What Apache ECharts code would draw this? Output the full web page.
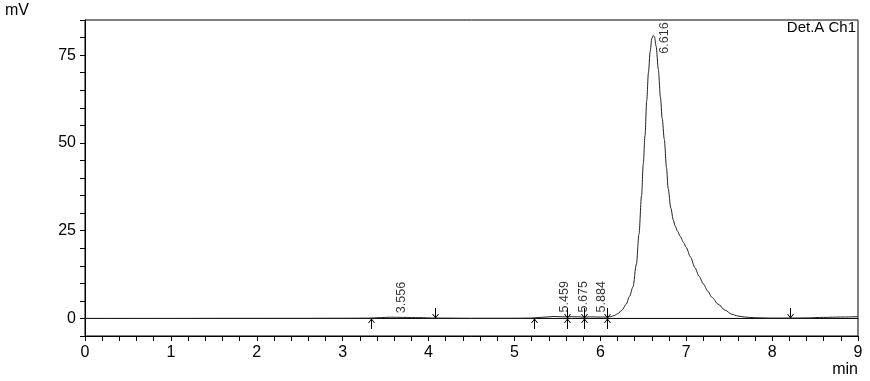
<!DOCTYPE html>
<html>
<head>
<meta charset="utf-8">
<script src="https://cdn.jsdelivr.net/npm/echarts@6/dist/echarts.min.js"></script>
<style>html,body{margin:0;padding:0;background:#fff}#c{width:870px;height:381px}</style>
</head>
<body>
<div id="c"></div>
<script>
// retention time (min)
const timeMin = [0,0.5,1.0,1.5,2.0,2.5,3.0,3.3,3.45,3.556,3.7,3.9,4.08,4.5,5.0,5.2,5.3,5.459,5.6,5.675,5.8,5.884,6.0,6.07,
  6.12,6.16,6.2,6.25,6.3,6.34,6.38,6.42,6.45,6.48,6.5,6.52,6.54,6.56,6.58,6.6,6.616,6.63,6.65,6.675,6.7,6.72,6.745,6.77,6.79,
  6.82,6.85,6.87,6.9,6.93,6.97,7.0,7.05,7.1,7.15,7.2,7.25,7.3,7.37,7.45,7.53,7.6,7.68,7.8,8.0,8.2,8.4,8.6,8.8,9.0];
// detector signal (mV)
const signalMv = [0,0,0,0.02,0.02,0.03,0.05,0.08,0.25,0.35,0.3,0.22,0.1,0.05,0.05,0.1,0.3,0.55,0.45,0.5,0.4,0.45,0.4,0.4,
  0.5,0.8,1.3,2.3,4.0,6.3,9.0,15.5,24,35,44,52,62,70,76,79.8,80.6,80.2,77.5,71,63,57,51,43,37,
  31.5,28,26.4,24.8,23.4,21.6,20.2,17.5,14.5,12,9.8,7.8,6.0,4.1,2.4,1.2,0.7,0.4,0.2,0.1,0.1,0.15,0.3,0.4,0.5];
// peak labels: retention time and height (mV) of label foot
const peakRt = [3.556, 5.459, 5.675, 5.884, 6.616];
const peakLabelFoot = [1.5, 1.7, 1.7, 1.7, 75.4];
// integration markers: time and kind
const markTime = [3.33, 4.075, 5.23, 5.614, 5.81, 6.074, 8.21];
const markKind = ['start', 'end', 'start', 'both', 'both', 'both', 'end'];
const xTicks = [0,1,2,3,4,5,6,7,8,9];
const yTickLabels = [0,25,50,75];

const FONT = 'Liberation Sans';
const chart = echarts.init(document.getElementById('c'), null, {renderer: 'canvas'});

const lineData = timeMin.map((t, i) => [t, signalMv[i]]);
const labelData = peakRt.map((t, i) => [t, peakLabelFoot[i]]);
const markData = markTime.map((t, i) => [t, 0, markKind[i]]);

chart.setOption({
  animation: false,
  backgroundColor: '#fff',
  grid: {left: 85, right: 12, top: 20, bottom: 45, show: true, borderColor: '#000', borderWidth: 1, backgroundColor: 'transparent'},
  xAxis: {
    type: 'value', min: 0, max: 9, interval: 1,
    axisLine: {show: true, onZero: false, lineStyle: {color: '#000', width: 1}},
    axisTick: {show: true, length: 5, lineStyle: {color: '#000'}},
    minorTick: {show: true, splitNumber: 5, length: 5, lineStyle: {color: '#000'}},
    splitLine: {show: false},
    axisLabel: {color: '#000', fontFamily: FONT, fontSize: 16, margin: 9,
      formatter: v => xTicks.includes(Math.round(v)) ? String(Math.round(v)) : ''}
  },
  yAxis: {
    type: 'value', min: -5, max: 85, interval: 5,
    axisLine: {show: true, onZero: false, lineStyle: {color: '#000', width: 1}},
    axisTick: {show: true, length: 5, lineStyle: {color: '#000'}},
    splitLine: {show: false},
    axisLabel: {color: '#000', fontFamily: FONT, fontSize: 16, margin: 9,
      formatter: v => yTickLabels.includes(v) ? String(v) : ''}
  },
  graphic: [
    {type: 'text', left: 5, top: 3, style: {text: 'mV', fontFamily: FONT, fontSize: 16, fill: '#000'}},
    {type: 'text', right: 12, top: 362, style: {text: 'min', fontFamily: FONT, fontSize: 16, fill: '#000'}},
    {type: 'text', right: 14, top: 20, style: {text: 'Det.A Ch1', fontFamily: FONT, fontSize: 15, fill: '#000'}}
  ],
  series: [
    {
      type: 'line', data: lineData, showSymbol: false, smooth: 0.3, smoothMonotone: 'x',
      lineStyle: {color: '#222', width: 1}, z: 3
    },
    {
      type: 'line', data: [[0, 0], [9, 0]], showSymbol: false,
      lineStyle: {color: '#000', width: 1}, z: 2
    },
    {
      type: 'scatter', data: labelData, symbolSize: 0.1, itemStyle: {color: 'transparent'},
      label: {show: true, position: [11, 0], rotate: 90, align: 'left', verticalAlign: 'middle',
        fontFamily: FONT, fontSize: 12.5, color: '#000', formatter: p => p.value[0].toFixed(3)}, z: 4
    },
    {
      type: 'custom', data: markData, z: 5,
      renderItem: (params, api) => {
        const p = api.coord([api.value(0), 0]);
        const x = Math.round(p[0]) + 0.5, y = Math.round(p[1]);
        const kind = markKind[params.dataIndex];
        const st = {stroke: '#000', lineWidth: 1, fill: null};
        const ch = [];
        if (kind === 'start' || kind === 'both') {
          ch.push({type: 'polyline', shape: {points: [[x, y + 1], [x, y + 11]]}, style: st});
          ch.push({type: 'polyline', shape: {points: [[x - 3, y + 5], [x, y + 1], [x + 3, y + 5]]}, style: st});
        }
        if (kind === 'end' || kind === 'both') {
          ch.push({type: 'polyline', shape: {points: [[x, y - 10], [x, y]]}, style: st});
          ch.push({type: 'polyline', shape: {points: [[x - 3, y - 4], [x, y], [x + 3, y - 4]]}, style: st});
        }
        return {type: 'group', children: ch};
      }
    }
  ]
});
</script>
</body>
</html>
